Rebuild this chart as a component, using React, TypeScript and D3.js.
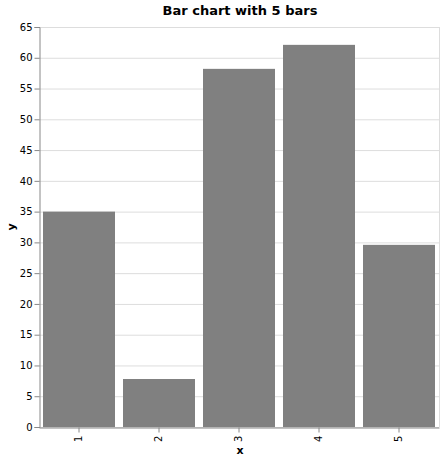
import React, { useEffect, useRef } from 'react';
import * as d3 from 'd3';

const categories = ['1', '2', '3', '4', '5'];
const values = [35, 7.8, 58.2, 62.1, 29.6];
const yTicks = d3.range(0, 66, 5);

const App = () => {
  const ref = useRef(null);

  useEffect(() => {
    const svg = d3.select(ref.current).attr('width', 444).attr('height', 460);
    svg.selectAll('*').remove();
    const left = 39, right = 439, top = 27, bottom = 427;
    const font = 'DejaVu Sans, sans-serif';

    const x = d3.scaleBand().domain(categories).range([left, right]).paddingInner(0.1).paddingOuter(0.05);
    const y = d3.scaleLinear().domain([0, 65]).range([bottom, top]);

    // grid
    svg.append('g').selectAll('line').data(yTicks).enter().append('line')
      .attr('x1', left).attr('x2', right)
      .attr('y1', d => y(d) + 0.5).attr('y2', d => y(d) + 0.5)
      .attr('stroke', '#ddd');
    svg.append('line').attr('x1', right + 0.5).attr('x2', right + 0.5).attr('y1', top).attr('y2', bottom).attr('stroke', '#ddd');

    svg.append('g').selectAll('rect').data(values).enter().append('rect')
      .attr('x', (d, i) => x(categories[i]))
      .attr('y', d => y(d))
      .attr('width', x.bandwidth())
      .attr('height', d => y(0) - y(d))
      .attr('fill', '#808080');

    const ya = svg.append('g').attr('transform', `translate(${left + 0.5},0)`)
      .call(d3.axisLeft(y).tickValues(yTicks).tickSize(5).tickPadding(2));
    ya.selectAll('path, line').attr('stroke', '#888');
    ya.selectAll('text').style('font-family', font).style('font-size', '10px').attr('fill', '#000');

    const xa = svg.append('g').attr('transform', `translate(0,${bottom + 0.5})`)
      .call(d3.axisBottom(x).tickSize(5).tickSizeOuter(0));
    xa.selectAll('path, line').attr('stroke', '#888');
    xa.selectAll('text').style('font-family', font).style('font-size', '10px').attr('fill', '#000')
      .attr('transform', 'rotate(-90)').attr('text-anchor', 'end').attr('x', -8).attr('y', 0).attr('dy', '0.32em');

    svg.append('text').attr('x', 240).attr('y', 454).attr('text-anchor', 'middle')
      .style('font-family', font).style('font-size', '11px').style('font-weight', 'bold').text('x');
    svg.append('text').attr('transform', `translate(15,${(top + bottom) / 2}) rotate(-90)`).attr('text-anchor', 'middle')
      .style('font-family', font).style('font-size', '11px').style('font-weight', 'bold').text('y');
    svg.append('text').attr('x', 240).attr('y', 15).attr('text-anchor', 'middle')
      .style('font-family', font).style('font-size', '13px').style('font-weight', 'bold').text('Bar chart with 5 bars');
  }, []);

  return <svg ref={ref} style={{ position: 'absolute', left: 0, top: 0 }}></svg>;
};

export default App;
